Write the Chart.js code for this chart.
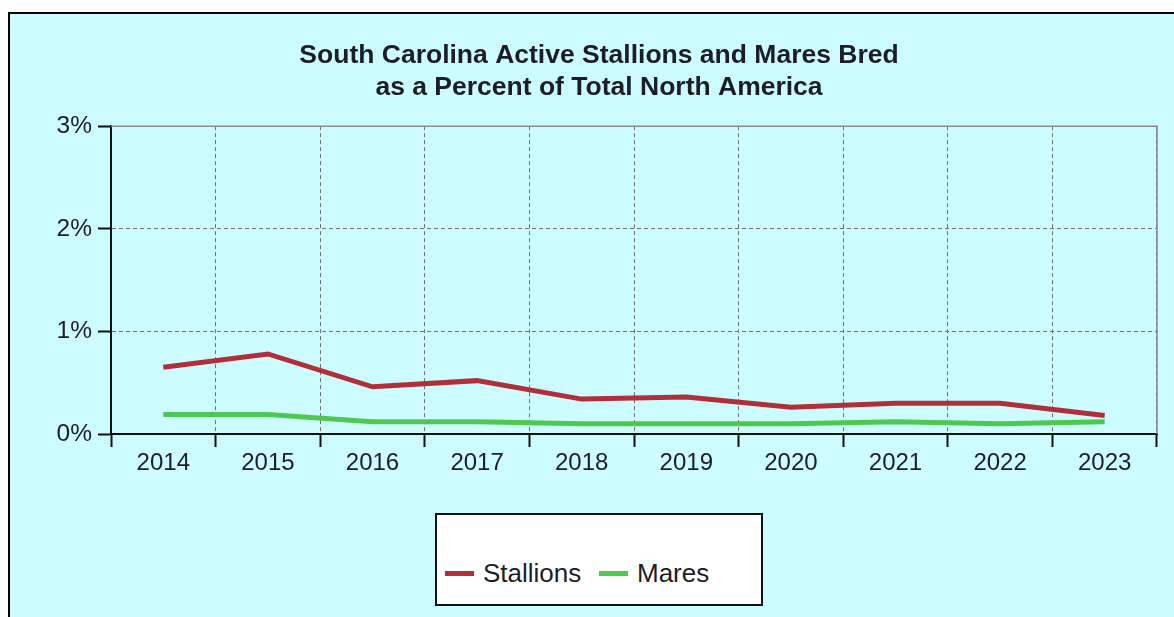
<!DOCTYPE html>
<html>
<head>
<meta charset="utf-8">
<script src="https://cdn.jsdelivr.net/npm/chart.js@4/dist/chart.umd.min.js"></script>
<style>
  html, body { margin: 0; padding: 0; background: #fff; overflow: hidden; }
  #frame {
    position: absolute; left: 8px; top: 12px; width: 1200px; height: 640px;
    background: #ccfcff; border-left: 2px solid #000; border-top: 2px solid #000;
  }
  #wrap { position: absolute; left: 0; top: 0; width: 1174px; height: 617px; }
  #legend {
    position: absolute; left: 435px; top: 513px; width: 324px; height: 89px;
    background: #fff; border: 2px solid #111;
    font-family: "Liberation Sans", Arial, sans-serif; font-size: 26px; color: #1d1d26;
  }
  #legend .item { position: absolute; top: 43px; display: flex; align-items: center; }
  #legend .swatch { width: 29px; height: 5px; margin-right: 9px; }
</style>
</head>
<body>
<div id="frame"></div>
<div id="wrap"><canvas id="chart" width="1174" height="617"></canvas></div>
<div id="legend"></div>
<script>
// données
const years = ['2014', '2015', '2016', '2017', '2018', '2019', '2020', '2021', '2022', '2023'];
const stallions = [0.65, 0.78, 0.46, 0.52, 0.34, 0.36, 0.26, 0.30, 0.30, 0.18];
const mares = [0.19, 0.19, 0.12, 0.12, 0.10, 0.10, 0.10, 0.12, 0.10, 0.12];
const yTicks = [0, 1, 2, 3];
const titleLines = ['South Carolina Active Stallions and Mares Bred', 'as a Percent of Total North America'];

const font = '"Liberation Sans", Arial, sans-serif';
const textColor = '#1d1d26';

// cadre gris en haut et à droite de la zone de tracé
const plotFrame = {
    id: 'plotFrame',
    beforeDatasetsDraw(chart) {
        const { ctx, chartArea: a } = chart;
        ctx.save();
        ctx.strokeStyle = '#888';
        ctx.lineWidth = 1.5;
        ctx.beginPath();
        ctx.moveTo(a.left, a.top);
        ctx.lineTo(a.right, a.top);
        ctx.lineTo(a.right, a.bottom);
        ctx.stroke();
        ctx.restore();
    }
};

const chart = new Chart(document.getElementById('chart'), {
    type: 'line',
    data: {
        labels: years,
        datasets: [{
            label: 'Stallions',
            data: stallions,
            borderColor: '#b0303a',
            backgroundColor: '#b0303a',
            borderWidth: 5,
            pointRadius: 0,
            tension: 0
        }, {
            label: 'Mares',
            data: mares,
            borderColor: '#4fc851',
            backgroundColor: '#4fc851',
            borderWidth: 5,
            pointRadius: 0,
            tension: 0
        }]
    },
    options: {
        responsive: false,
        animation: false,
        layout: { padding: { left: 41, right: 17, top: 0, bottom: 0 } },
        plugins: {
            legend: { display: false },
            tooltip: { enabled: false },
            title: {
                display: true,
                text: titleLines,
                color: textColor,
                font: { family: font, size: 26.5, weight: 'bold', lineHeight: 1.21 },
                padding: { top: 40, bottom: 22 }
            }
        },
        scales: {
            x: {
                offset: true,
                grid: {
                    offset: true,
                    color: '#707070',
                    lineWidth: 1,
                    tickColor: '#111',
                    tickWidth: 2,
                    tickLength: 13
                },
                border: { display: true, color: '#111', width: 2, dash: [4, 3] },
                ticks: {
                    color: textColor,
                    padding: 2,
                    font: { family: font, size: 24 }
                },
                afterFit(scale) { scale.height = 183; }
            },
            y: {
                min: 0,
                max: 3,
                afterBuildTicks(scale) { scale.ticks = yTicks.map(v => ({ value: v })); },
                grid: {
                    color: '#707070',
                    lineWidth: 1,
                    tickColor: '#111',
                    tickWidth: 2,
                    tickLength: 13
                },
                border: { display: true, color: '#111', width: 2, dash: [4, 3] },
                ticks: {
                    color: textColor,
                    padding: 6,
                    font: { family: font, size: 24.5 },
                    callback: v => v + '%'
                },
                afterFit(scale) { scale.width = 70; }
            }
        }
    },
    plugins: [plotFrame]
});

// légende HTML construite à partir des datasets
const legend = document.getElementById('legend');
const itemLeft = [8, 162];
chart.data.datasets.forEach((ds, i) => {
    const item = document.createElement('div');
    item.className = 'item';
    item.style.left = itemLeft[i] + 'px';
    const sw = document.createElement('span');
    sw.className = 'swatch';
    sw.style.background = ds.borderColor;
    const txt = document.createElement('span');
    txt.textContent = ds.label;
    item.appendChild(sw);
    item.appendChild(txt);
    legend.appendChild(item);
});
</script>
</body>
</html>
